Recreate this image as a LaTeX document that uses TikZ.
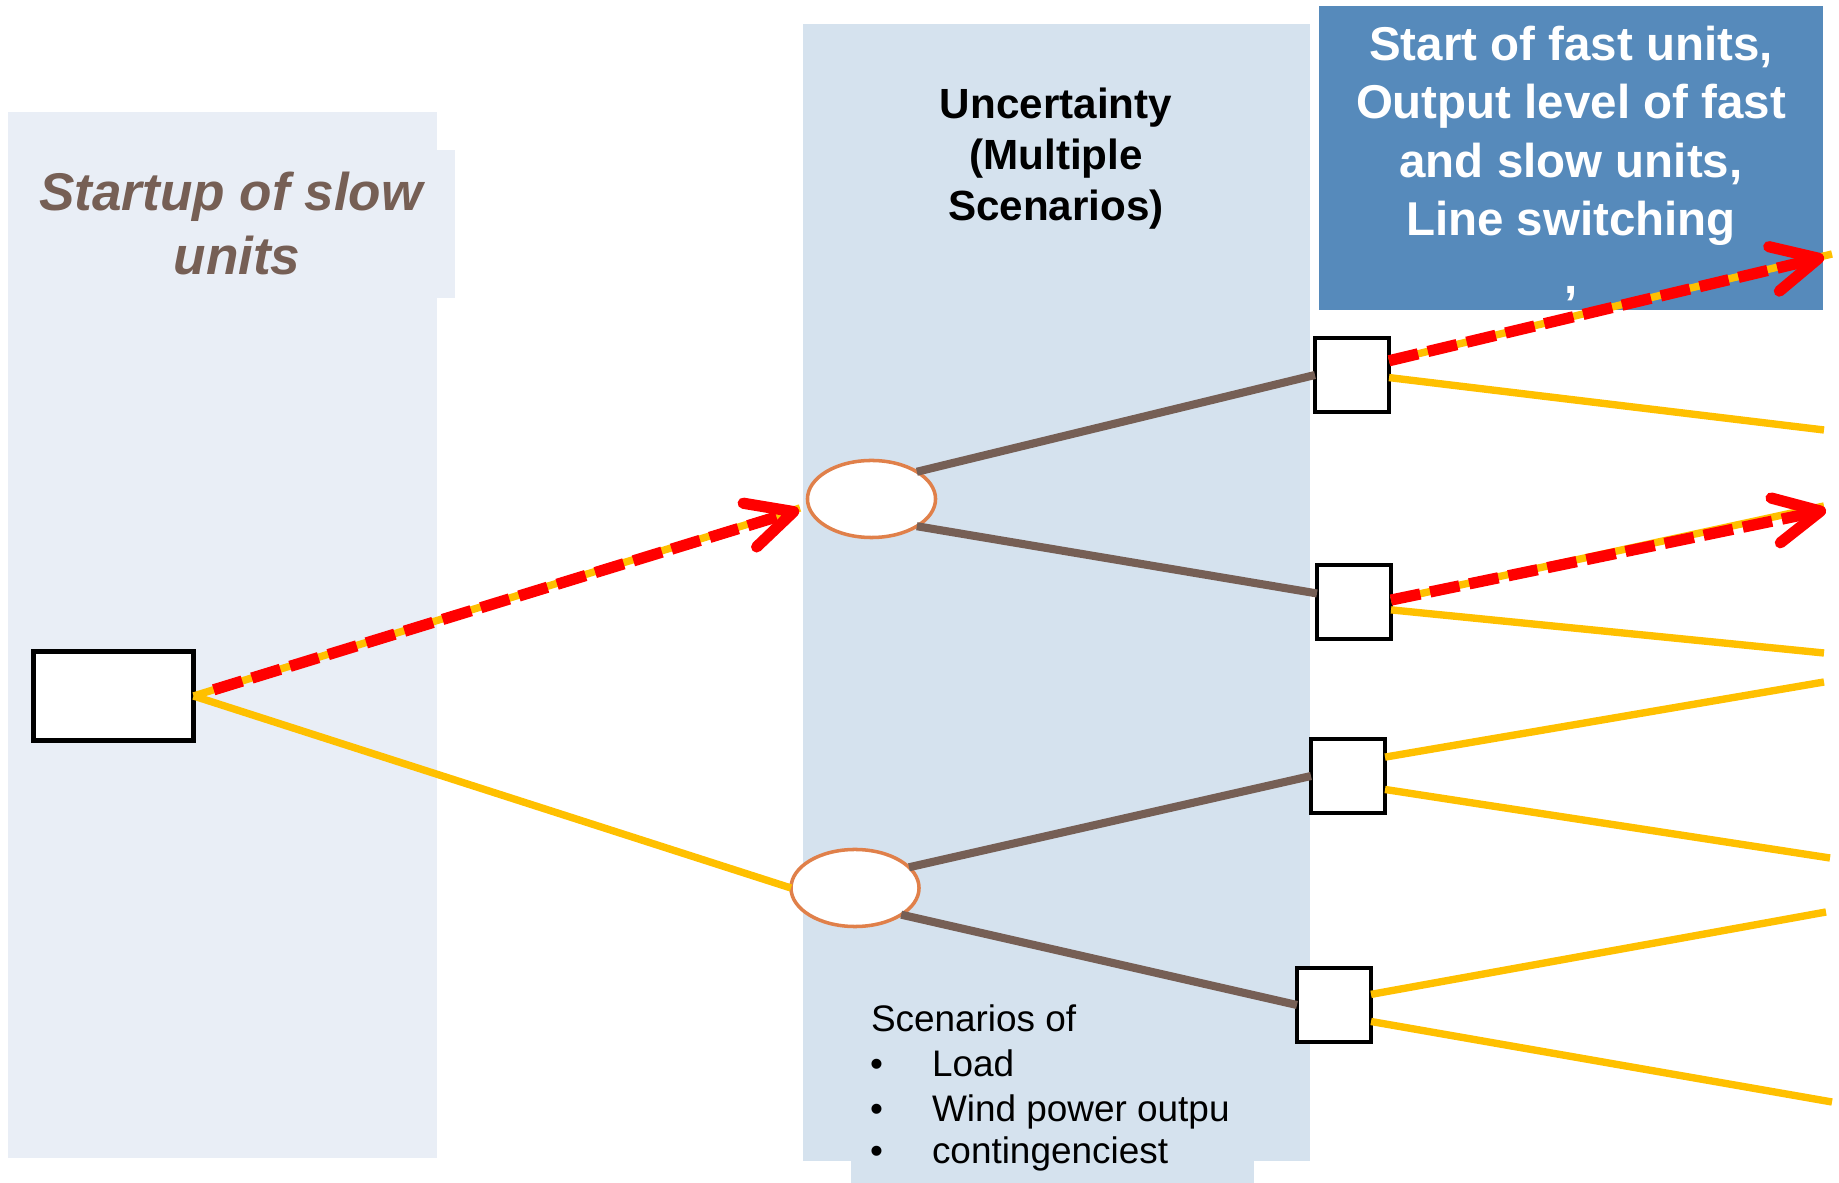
\documentclass[tikz,border=0pt]{standalone}
\usepackage{fontspec}
\setmainfont{Liberation Sans}
\usetikzlibrary{arrows.meta,shapes.geometric}
\definecolor{slowbg}{RGB}{233,238,246}
\definecolor{midbg}{RGB}{213,226,238}
\definecolor{fastbg}{RGB}{86,138,187}
\definecolor{gold}{RGB}{255,192,0}
\definecolor{bark}{RGB}{118,95,85}
\definecolor{rim}{RGB}{224,128,74}
\definecolor{signal}{RGB}{255,0,0}
\begin{document}
\begin{tikzpicture}[x=0.01cm,y=-0.01cm,
  decision/.style={draw=black,fill=white,line width=1.25pt,inner sep=0pt,outer sep=0pt},
  chance/.style={ellipse,draw=rim,fill=white,line width=1pt,inner sep=0pt,outer sep=0pt,
    minimum width=1.28cm,minimum height=0.77cm},
  branch/.style={draw=gold,line width=2.1pt},
  outcome/.style={draw=bark,line width=2.3pt},
  chosen/.style={draw=signal,line width=3.2pt,dash pattern=on 8.5pt off 2.85pt,
    -{Straight Barb[length=13pt,width=13pt,round]}},
  lbl/.style={inner sep=0pt,outer sep=0pt}]
\useasboundingbox (0,0) rectangle (1839,1183);
\fill[white] (0,0) rectangle (1839,1183);

% stage backgrounds
\fill[slowbg] (8,112) rectangle (437,1158);
\fill[slowbg] (437,150) rectangle (455,298);
\fill[midbg] (803,24) rectangle (1310,1161);
\fill[midbg] (851,1161) rectangle (1254,1183);
\fill[fastbg] (1319,6) rectangle (1823,310);

% stage titles (anchored at the baseline of the last line)
\node[lbl,anchor=base,align=center,text=bark,
  font=\fontsize{15.1}{18.2}\selectfont\bfseries\itshape] (slowtxt) at (231,275)
  {Startup of slow\\\hspace*{0.12cm}units};
\node[lbl,anchor=base,align=center,text=black,
  font=\fontsize{12}{14.6}\selectfont\bfseries] (unctxt) at (1056,221)
  {Uncertainty\\(Multiple\\Scenarios)};
\node[lbl,anchor=base,align=center,text=white,
  font=\fontsize{13.5}{16.6}\selectfont\bfseries] (fasttxt) at (1571,294)
  {Start of fast units,\\Output level of fast\\and slow units,\\Line switching\\,};

% scenario list
\begin{scope}[every node/.style={lbl,anchor=base west,font=\fontsize{10.5}{12.5}\selectfont}]
  \node (scn) at (871,1032) {Scenarios of};
  \node (bul1) at (870,1077) {•};
  \node (itm1) at (932,1077) {Load};
  \node (bul2) at (870,1122) {•};
  \node (itm2) at (932,1122) {Wind power outpu};
  \node (bul3) at (870,1164) {•};
  \node (itm3) at (932,1164) {contingenciest};
\end{scope}

% decision and chance nodes
\node[decision,minimum width=1.60cm,minimum height=0.89cm] (root) at (113.5,696) {};
\node[chance] (e1) at (871.5,499) {};
\node[chance] (e2) at (855,888) {};
\node[decision,minimum size=0.74cm] (b1) at (1352,375) {};
\node[decision,minimum size=0.74cm] (b2) at (1354,602) {};
\node[decision,minimum size=0.74cm] (b3) at (1348,776) {};
\node[decision,minimum size=0.74cm] (b4) at (1334,1005) {};

% free ends of the branches
\coordinate (ya) at (800,508);
\coordinate (ta) at (799,510);
\coordinate (yb) at (1832,254);
\coordinate (tb) at (1824,257);
\coordinate (b1lo) at (1824,430);
\coordinate (yc) at (1824,506);
\coordinate (tc) at (1826,510);
\coordinate (b2lo) at (1824,653);
\coordinate (b3hi) at (1824,682);
\coordinate (b3lo) at (1830,858);
\coordinate (b4hi) at (1826,912);
\coordinate (b4lo) at (1832,1102);

% first-stage branches
\draw[branch] (root.east) -- (ya);
\draw[branch] (root.east) -- (e2.west);

% scenario branches
\draw[outcome] (e1.31) -- (b1.west);
\draw[outcome] (e1.-31) -- (b2.167);
\draw[outcome] (e2.21) -- (b3.west);
\draw[outcome] (e2.-30) -- (b4.west);

% second-stage branches
\draw[branch] (b1.21) -- (yb);
\draw[branch] (b1.-4) -- (b1lo);
\draw[branch] (b2.3) -- (yc);
\draw[branch] (b2.-12) -- (b2lo);
\draw[branch] (b3.27) -- (b3hi);
\draw[branch] (b3.-20) -- (b3lo);
\draw[branch] (b4.16) -- (b4hi);
\draw[branch] (b4.-24) -- (b4lo);

% selected decisions
\draw[chosen,shorten <=6pt] (root.east) -- (ta);
\draw[chosen] (b1.21) -- (tb);
\draw[chosen] (b2.3) -- (tc);
\end{tikzpicture}
\end{document}
